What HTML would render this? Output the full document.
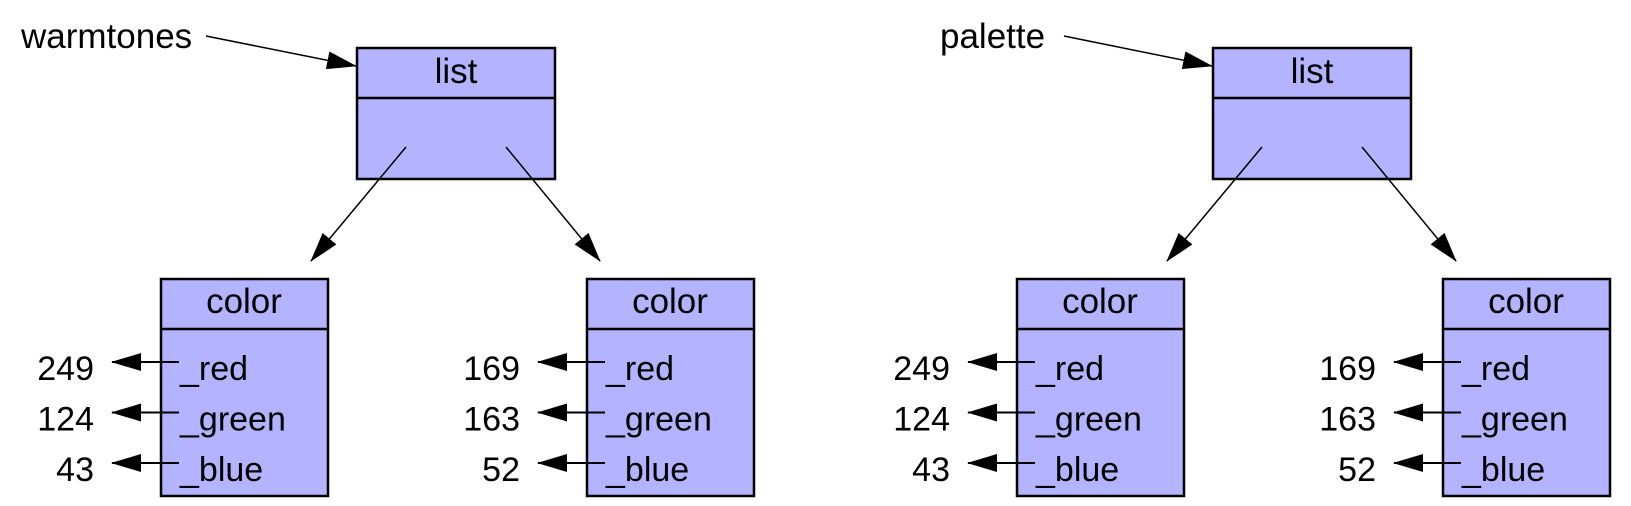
<!DOCTYPE html>
<html><head><meta charset="utf-8"><style>
html,body{margin:0;padding:0;background:#fff;}
svg{display:block;font-family:"Liberation Sans","DejaVu Sans",sans-serif;}
</style></head><body>
<svg id="d" width="1631" height="506" viewBox="0 0 1631 506" xmlns="http://www.w3.org/2000/svg">
<defs><marker id="ah" markerWidth="30" markerHeight="18" refX="29" refY="9" orient="auto" markerUnits="userSpaceOnUse"><path d="M0,0 L30,9 L0,18 Z" fill="#000"/></marker></defs>
</svg>
<script>
const varNames=["warmtones","palette"];
const colorValues=[[249,124,43],[169,163,52]];
const fieldNames=["_red","_green","_blue"];
const svg=document.getElementById('d');
const NS="http://www.w3.org/2000/svg";
function mk(t,a,parent){const e=document.createElementNS(NS,t);for(const k in a)e.setAttribute(k,a[k]);(parent||svg).appendChild(e);return e;}
const groupDX=[0,856];
varNames.forEach((vn,gi)=>{
  const g=mk('g',{transform:'translate('+groupDX[gi]+',0)'});
  
  
  const t=mk('text',{x:gi?84:21,y:48,'font-size':35},g);t.textContent=vn;
  
  
  mk('line',{x1:gi?208:206,y1:36,x2:356,y2:66,stroke:'#000','stroke-width':1.5,'marker-end':'url(#ah)'},g);
  const lb=mk('g',{},g);
  
  
  mk('rect',{x:357,y:48,width:198,height:131,fill:'#b3b3ff',stroke:'#000','stroke-width':2.5},lb);
  mk('line',{x1:357,y1:98,x2:555,y2:98,stroke:'#000','stroke-width':2.5},lb);
  const lt=mk('text',{x:456,y:83,'font-size':35,'text-anchor':'middle'},lb);lt.textContent='list';
  mk('line',{x1:406,y1:147,x2:311,y2:261,stroke:'#000','stroke-width':1.5,'marker-end':'url(#ah)'},g);
  mk('line',{x1:506,y1:147,x2:600,y2:261,stroke:'#000','stroke-width':1.5,'marker-end':'url(#ah)'},g);
  colorValues.forEach((vals,ci)=>{
    const bx=161+ci*426;
    const cb=mk('g',{},g);
    
    
    mk('rect',{x:bx,y:279,width:167,height:217,fill:'#b3b3ff',stroke:'#000','stroke-width':2.5},cb);
    mk('line',{x1:bx,y1:329,x2:bx+167,y2:329,stroke:'#000','stroke-width':2.5},cb);
    const ct=mk('text',{x:bx+83,y:313,'font-size':35,'text-anchor':'middle'},cb);ct.textContent='color';
    vals.forEach((v,fi)=>{
      const y=362+fi*50.5;
      const f=mk('text',{x:bx+19,y:y+18,'font-size':34},cb);f.textContent=fieldNames[fi];
      
      
      mk('line',{x1:bx+18,y1:y,x2:bx-49,y2:y,stroke:'#000','stroke-width':2,'marker-end':'url(#ah)'},cb);
      const n=mk('text',{x:bx-67,y:y+18,'font-size':34,'text-anchor':'end'},cb);n.textContent=v;
      
      
    });
  });
});
</script>
</body></html>
